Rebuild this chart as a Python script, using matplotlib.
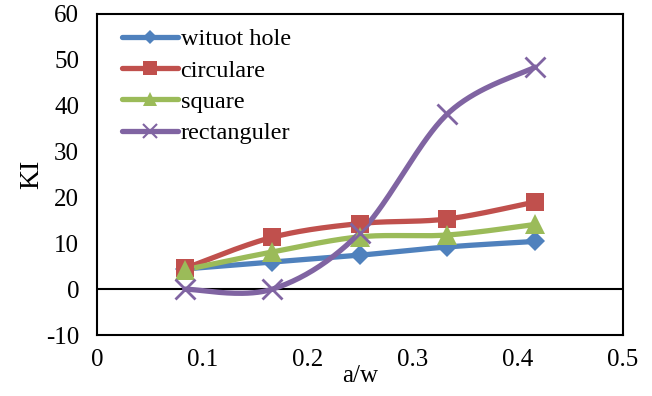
import matplotlib.pyplot as plt
import numpy as np
from matplotlib.lines import Line2D

a_w = [0.0833, 0.1667, 0.25, 0.3333, 0.4167]
without_hole = [4.4, 5.9, 7.4, 9.2, 10.4]
circulare = [4.5, 11.3, 14.3, 15.3, 19.0]
square = [4.2, 8.1, 11.4, 11.8, 14.1]
rectanguler = [0.0, 0.0, 12.3, 38.2, 48.4]

names = ['wituot hole', 'circulare', 'square', 'rectanguler']
colors = ['#4F81BD', '#C0504D', '#9BBB59', '#8064A2']
markers = ['D', 's', '^', 'x']
msizes = [10, 13, 14, 14]


def smooth(x, y, n=40):
    # Excel-style smoothing (Catmull-Rom via cubic Bezier)
    x = np.asarray(x, float)
    y = np.asarray(y, float)
    px = np.concatenate([[x[0]], x, [x[-1]]])
    py = np.concatenate([[y[0]], y, [y[-1]]])
    xs, ys = [], []
    t = np.linspace(0, 1, n)
    for i in range(1, len(px) - 2):
        p0 = np.array([px[i], py[i]])
        p3 = np.array([px[i + 1], py[i + 1]])
        p1 = p0 + (np.array([px[i + 1], py[i + 1]]) - np.array([px[i - 1], py[i - 1]])) / 6
        p2 = p3 - (np.array([px[i + 2], py[i + 2]]) - np.array([px[i], py[i]])) / 6
        b = ((1 - t) ** 3)[:, None] * p0 + (3 * (1 - t) ** 2 * t)[:, None] * p1 \
            + (3 * (1 - t) * t ** 2)[:, None] * p2 + (t ** 3)[:, None] * p3
        xs.extend(b[:, 0])
        ys.extend(b[:, 1])
    return xs, ys


plt.rcParams['font.family'] = ['Liberation Serif', 'DejaVu Serif']
plt.rcParams['axes.unicode_minus'] = False

fig = plt.figure(figsize=(6.52, 3.96), dpi=100)
ax = fig.add_axes([0.149, 0.154, 0.806, 0.811])

series = [without_hole, circulare, square, rectanguler]
handles = []
for vals, name, c, m, ms in zip(series, names, colors, markers, msizes):
    sx, sy = smooth(a_w, vals)
    ax.plot(sx, sy, color=c, lw=3.8, solid_capstyle='round', zorder=3)
    ax.plot(a_w, vals, ls='none', marker=m, ms=ms, color=c, mew=2 if m == 'x' else 0, zorder=4)
    handles.append(Line2D([], [], color=c, lw=3.8, marker=m, ms=ms * 0.75,
                          mew=1.5 if m == 'x' else 0, solid_capstyle='round'))

ax.axhline(0, color='black', lw=1.5, zorder=2)
ax.set_xlim(0, 0.5)
ax.set_ylim(-10, 60)
ax.set_xticks([0, 0.1, 0.2, 0.3, 0.4, 0.5])
ax.set_xticklabels(['0', '0.1', '0.2', '0.3', '0.4', '0.5'])
ax.set_yticks(range(-10, 61, 10))
ax.tick_params(axis='y', length=0, labelsize=18, pad=13)
ax.tick_params(axis='x', length=0, labelsize=18, pad=10)
for s in ax.spines.values():
    s.set_linewidth(1.5)
ax.set_xlabel('a/w', fontsize=18, labelpad=-4)
fig.text(32 / 652, 0.56, 'KI', fontsize=20, rotation=90, ha='center', va='center')

ax.legend(handles, names, loc='upper left', frameon=False, fontsize=17.5,
          handlelength=2.3, handletextpad=0.1, labelspacing=0.38,
          borderaxespad=0.2, bbox_to_anchor=(0.02, 1.0))

plt.savefig('out.png')
